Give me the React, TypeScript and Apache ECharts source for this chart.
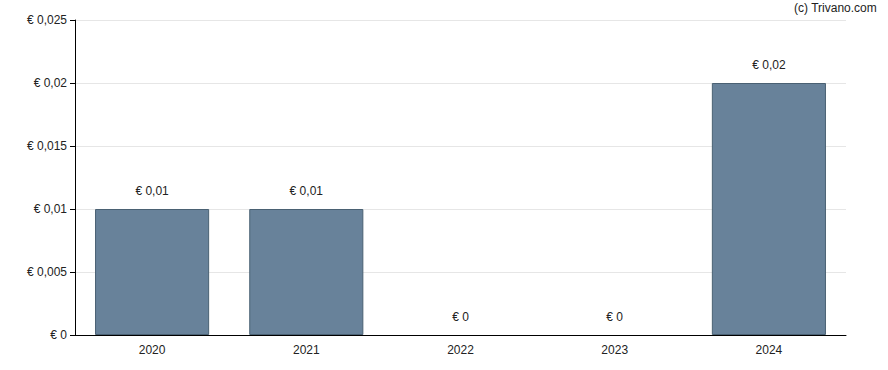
import React, { useEffect, useRef } from "react";
import * as echarts from "echarts";

const categories = ["2020", "2021", "2022", "2023", "2024"];
const values = [0.01, 0.01, 0, 0, 0.02];
const yTicks = [0, 0.005, 0.01, 0.015, 0.02, 0.025];

const fmt = (v: number) => "€ " + String(v).replace(".", ",");
const FONT = "'Liberation Sans', Arial, sans-serif";

export default function App() {
  const ref = useRef<HTMLDivElement>(null);
  useEffect(() => {
    const chart = echarts.init(ref.current!, null, { renderer: "svg" });
    chart.setOption({
      animation: false,
      textStyle: { fontFamily: FONT },
      grid: { left: 75, top: 20, right: 42, bottom: 35 },
      graphic: [
        {
          type: "text",
          right: 11,
          top: 2,
          style: { text: "(c) Trivano.com", fill: "#222", fontSize: 12, fontFamily: FONT },
        },
      ],
      xAxis: {
        type: "category",
        data: categories,
        axisLine: { lineStyle: { color: "#000", width: 1 } },
        axisTick: { alignWithLabel: true, length: 5, lineStyle: { color: "#000" } },
        axisLabel: { color: "#222", fontSize: 12, margin: 9 },
      },
      yAxis: {
        type: "value",
        min: yTicks[0],
        max: yTicks[yTicks.length - 1],
        interval: 0.005,
        axisLine: { show: true, lineStyle: { color: "#000", width: 1 } },
        axisTick: { show: true, length: 5, lineStyle: { color: "#000" } },
        axisLabel: { color: "#222", fontSize: 12, margin: 8, formatter: (v: number) => fmt(+v.toFixed(3)) },
        splitLine: { lineStyle: { color: "#e6e6e6" } },
      },
      series: [
        {
          type: "bar",
          data: values.map((v) => ({
            value: v,
            itemStyle: { borderWidth: v === 0 ? 0 : 1 },
          })),
          barWidth: "74%",
          itemStyle: { color: "#68829a", borderColor: "#4a6173", borderWidth: 1, opacity: 1 },
          label: {
            show: true,
            position: "top",
            distance: 12,
            color: "#222",
            fontSize: 12,
            formatter: (p: any) => fmt(p.value),
          },
        },
      ],
    });
    return () => chart.dispose();
  }, []);
  return (
    <div
      ref={ref}
      style={{ position: "absolute", left: 0, top: 0, width: 888, height: 370 }}
    />
  );
}
